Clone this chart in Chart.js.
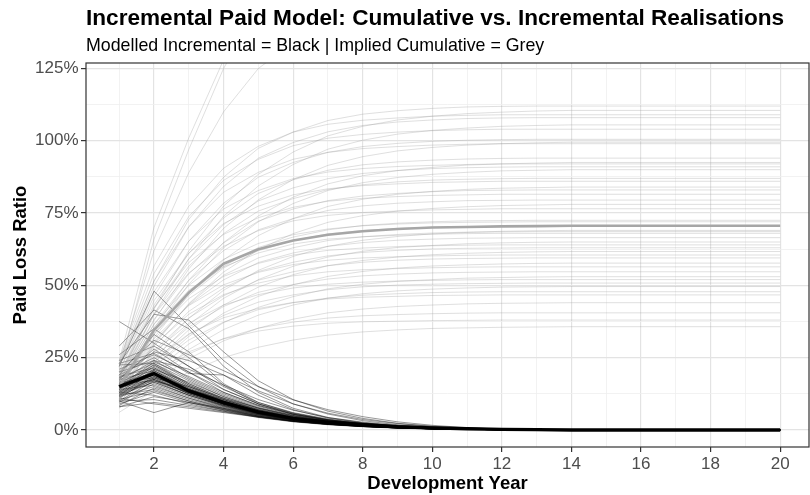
<!DOCTYPE html>
<html>
<head>
<meta charset="utf-8">
<script src="https://cdn.jsdelivr.net/npm/chart.js@4.4.1/dist/chart.umd.min.js"></script>
<style>
  body { margin: 0; background: #fff; }
  #wrap { position: relative; width: 810px; height: 495px; font-family: "Liberation Sans", Arial, sans-serif; }
  #title { position: absolute; left: 86px; top: 5px; font-size: 22.6px; font-weight: bold; color: #000; white-space: nowrap; }
  #subtitle { position: absolute; left: 86px; top: 35px; font-size: 17.8px; color: #000; white-space: nowrap; }
  canvas { position: absolute; left: 0; top: 0; }
</style>
</head>
<body>
<div id="wrap">
  <canvas id="chart" width="810" height="495"></canvas>
  <div id="title">Incremental Paid Model: Cumulative vs. Incremental Realisations</div>
  <div id="subtitle">Modelled Incremental = Black | Implied Cumulative = Grey</div>
</div>
<script>
// development years (x)
const years = [1, 2, 3, 4, 5, 6, 7, 8, 9, 10, 11, 12, 13, 14, 15, 16, 17, 18, 19, 20];
const xTickLabels = ['', '2', '', '4', '', '6', '', '8', '', '10', '', '12', '', '14', '', '16', '', '18', '', '20'];
const yTicks = [0, 12.5, 25, 37.5, 50, 62.5, 75, 87.5, 100, 112.5, 125];

// central (thick) lines, paid loss ratio in %
const meanIncremental = [15, 19.5, 13.5, 9.5, 6.2, 4.0, 2.7, 1.8, 1.1, 0.7, 0.4, 0.2, 0.1, 0, 0, 0, 0, 0, 0, 0];
const meanCumulative = [15, 34.5, 47.5, 57.5, 62.5, 65.5, 67.5, 68.7, 69.5, 70, 70.2, 70.4, 70.5, 70.6, 70.6, 70.6, 70.6, 70.6, 70.6, 70.6];

// simulated incremental paths (black)
const incrementalPaths = [
  [37.5, 30, 22, 14, 9, 5.5, 3.5, 2.2, 1.3, 0.8, 0.4, 0.2, 0.1, 0, 0, 0, 0, 0, 0, 0],
  [22, 48, 36, 24, 15, 9, 5.5, 3.2, 1.8, 1.0, 0.5, 0.2, 0.1, 0, 0, 0, 0, 0, 0, 0],
  [29, 41.5, 35, 22, 13, 7.5, 4.3, 2.5, 1.4, 0.8, 0.4, 0.2, 0.1, 0, 0, 0, 0, 0, 0, 0],
  [23, 40, 38, 27, 17, 10.5, 6.5, 4, 2.3, 1.3, 0.7, 0.3, 0.1, 0, 0, 0, 0, 0, 0, 0],
  [20, 31, 26, 20.5, 15, 10.4, 7, 4.6, 2.8, 1.6, 0.8, 0.3, 0.1, 0, 0, 0, 0, 0, 0, 0],
  [18, 27, 24, 19, 13.5, 9, 5.8, 3.6, 2.2, 1.2, 0.6, 0.3, 0.1, 0, 0, 0, 0, 0, 0, 0],
  [24, 29, 22, 15, 9.5, 6, 3.8, 2.3, 1.4, 0.8, 0.4, 0.2, 0.1, 0, 0, 0, 0, 0, 0, 0],
  [21, 26, 20, 14, 9, 5.8, 3.6, 2.2, 1.3, 0.7, 0.4, 0.2, 0.1, 0, 0, 0, 0, 0, 0, 0],
  [19, 25, 18, 12.5, 8.2, 5.2, 3.3, 2.0, 1.2, 0.7, 0.3, 0.1, 0, 0, 0, 0, 0, 0, 0, 0],
  [17, 24, 17.5, 12, 7.8, 5, 3.1, 1.9, 1.1, 0.6, 0.3, 0.1, 0, 0, 0, 0, 0, 0, 0, 0],
  [22.5, 23, 17, 11.5, 7.5, 4.8, 3, 1.8, 1.0, 0.6, 0.3, 0.1, 0, 0, 0, 0, 0, 0, 0, 0],
  [16, 22.5, 16, 11, 7.2, 4.6, 2.9, 1.8, 1.0, 0.6, 0.3, 0.1, 0, 0, 0, 0, 0, 0, 0, 0],
  [14, 22, 15.5, 10.5, 6.8, 4.3, 2.7, 1.7, 1.0, 0.5, 0.3, 0.1, 0, 0, 0, 0, 0, 0, 0, 0],
  [13, 21, 16.5, 11.5, 7.5, 4.8, 3.0, 1.9, 1.1, 0.6, 0.3, 0.1, 0, 0, 0, 0, 0, 0, 0, 0],
  [18.5, 21.5, 15, 10, 6.5, 4.1, 2.6, 1.6, 0.9, 0.5, 0.2, 0.1, 0, 0, 0, 0, 0, 0, 0, 0],
  [12, 20.5, 14.5, 10, 6.4, 4.1, 2.6, 1.6, 0.9, 0.5, 0.2, 0.1, 0, 0, 0, 0, 0, 0, 0, 0],
  [15.5, 20, 14, 9.5, 6.2, 4, 2.5, 1.5, 0.9, 0.5, 0.2, 0.1, 0, 0, 0, 0, 0, 0, 0, 0],
  [14.5, 19, 13, 9, 5.8, 3.7, 2.3, 1.4, 0.8, 0.4, 0.2, 0.1, 0, 0, 0, 0, 0, 0, 0, 0],
  [11, 18.5, 13.5, 9.5, 6.2, 4.0, 2.5, 1.5, 0.9, 0.5, 0.2, 0.1, 0, 0, 0, 0, 0, 0, 0, 0],
  [16.5, 18, 12.5, 8.5, 5.5, 3.5, 2.2, 1.3, 0.8, 0.4, 0.2, 0.1, 0, 0, 0, 0, 0, 0, 0, 0],
  [13.5, 17.5, 12.5, 8.8, 5.7, 3.6, 2.3, 1.4, 0.8, 0.4, 0.2, 0.1, 0, 0, 0, 0, 0, 0, 0, 0],
  [10, 17, 13, 9, 5.9, 3.8, 2.4, 1.5, 0.9, 0.5, 0.2, 0.1, 0, 0, 0, 0, 0, 0, 0, 0],
  [12.5, 16.5, 12, 8.2, 5.3, 3.4, 2.1, 1.3, 0.7, 0.4, 0.2, 0.1, 0, 0, 0, 0, 0, 0, 0, 0],
  [9.5, 16, 11.5, 8, 5.2, 3.3, 2.1, 1.3, 0.7, 0.4, 0.2, 0.1, 0, 0, 0, 0, 0, 0, 0, 0],
  [14, 15.5, 11, 7.5, 4.9, 3.1, 2.0, 1.2, 0.7, 0.4, 0.2, 0.1, 0, 0, 0, 0, 0, 0, 0, 0],
  [11.5, 15, 11, 7.8, 5.1, 3.3, 2.1, 1.3, 0.7, 0.4, 0.2, 0.1, 0, 0, 0, 0, 0, 0, 0, 0],
  [8.5, 14.5, 10.5, 7.4, 4.8, 3.1, 2.0, 1.2, 0.7, 0.4, 0.2, 0.1, 0, 0, 0, 0, 0, 0, 0, 0],
  [12, 14, 10, 7, 4.6, 3.0, 1.9, 1.2, 0.7, 0.4, 0.2, 0.1, 0, 0, 0, 0, 0, 0, 0, 0],
  [10.5, 13.5, 10, 7.2, 4.8, 3.1, 2.0, 1.2, 0.7, 0.4, 0.2, 0.1, 0, 0, 0, 0, 0, 0, 0, 0],
  [9, 13, 9.5, 6.8, 4.5, 2.9, 1.9, 1.2, 0.7, 0.4, 0.2, 0.1, 0, 0, 0, 0, 0, 0, 0, 0],
  [13, 12, 9, 6.5, 4.3, 2.8, 1.8, 1.1, 0.6, 0.3, 0.2, 0.1, 0, 0, 0, 0, 0, 0, 0, 0],
  [8, 11.5, 9.5, 7.5, 5.2, 3.4, 2.2, 1.4, 0.8, 0.4, 0.2, 0.1, 0, 0, 0, 0, 0, 0, 0, 0],
  [10, 10.5, 8.5, 6.5, 4.6, 3.0, 2.0, 1.2, 0.7, 0.4, 0.2, 0.1, 0, 0, 0, 0, 0, 0, 0, 0],
  [8, 9.5, 8, 6.2, 4.5, 3.0, 2.0, 1.3, 0.8, 0.4, 0.2, 0.1, 0, 0, 0, 0, 0, 0, 0, 0],
  [10, 6, 9.5, 7, 4.8, 3.2, 2.1, 1.3, 0.8, 0.4, 0.2, 0.1, 0, 0, 0, 0, 0, 0, 0, 0],
  [11, 9, 7.5, 6, 4.4, 3.0, 2.0, 1.3, 0.8, 0.4, 0.2, 0.1, 0, 0, 0, 0, 0, 0, 0, 0],
  [20, 24, 21, 15.5, 10.5, 6.8, 4.3, 2.7, 1.6, 0.9, 0.5, 0.2, 0.1, 0, 0, 0, 0, 0, 0, 0],
  [26, 35, 27, 16, 9.5, 5.8, 3.5, 2.1, 1.2, 0.7, 0.3, 0.1, 0, 0, 0, 0, 0, 0, 0, 0],
  [17.5, 28, 20, 13, 8.5, 5.4, 3.4, 2.1, 1.2, 0.7, 0.3, 0.1, 0, 0, 0, 0, 0, 0, 0, 0],
  [15, 23.5, 18.5, 13, 8.5, 5.5, 3.5, 2.2, 1.3, 0.7, 0.4, 0.2, 0.1, 0, 0, 0, 0, 0, 0, 0],
  [12, 18, 15, 11, 7.6, 5, 3.2, 2, 1.2, 0.7, 0.3, 0.1, 0, 0, 0, 0, 0, 0, 0, 0],
  [16, 20, 13.5, 8.8, 5.6, 3.5, 2.2, 1.3, 0.8, 0.4, 0.2, 0.1, 0, 0, 0, 0, 0, 0, 0, 0],
  [13, 17, 14, 10.5, 7.0, 4.6, 3.0, 1.9, 1.1, 0.6, 0.3, 0.1, 0, 0, 0, 0, 0, 0, 0, 0],
  [19, 33, 25, 15.5, 9, 5.4, 3.3, 2, 1.1, 0.6, 0.3, 0.1, 0, 0, 0, 0, 0, 0, 0, 0],
  [23, 26.5, 19.5, 19, 12, 7, 4.1, 2.4, 1.4, 0.8, 0.4, 0.2, 0.1, 0, 0, 0, 0, 0, 0, 0],
  [14.5, 18.5, 13.5, 9.2, 6.0, 3.8, 2.4, 1.5, 0.9, 0.5, 0.2, 0.1, 0, 0, 0, 0, 0, 0, 0, 0],
  [15.5, 21, 14.5, 9.8, 6.3, 4.0, 2.5, 1.5, 0.9, 0.5, 0.2, 0.1, 0, 0, 0, 0, 0, 0, 0, 0],
  [13.5, 19.5, 14, 9.7, 6.3, 4.1, 2.6, 1.6, 0.9, 0.5, 0.2, 0.1, 0, 0, 0, 0, 0, 0, 0, 0],
  [16, 17, 12, 8.3, 5.4, 3.5, 2.2, 1.3, 0.8, 0.4, 0.2, 0.1, 0, 0, 0, 0, 0, 0, 0, 0],
  [12.5, 18, 13, 9, 6.0, 3.9, 2.5, 1.5, 0.9, 0.5, 0.2, 0.1, 0, 0, 0, 0, 0, 0, 0, 0],
  [14, 20.5, 14.2, 9.8, 6.4, 4.1, 2.7, 1.7, 1.0, 0.6, 0.3, 0.1, 0, 0, 0, 0, 0, 0, 0, 0],
  [15.5, 19, 13.2, 9.0, 5.9, 3.8, 2.5, 1.6, 0.9, 0.5, 0.2, 0.1, 0, 0, 0, 0, 0, 0, 0, 0],
  [16.5, 21.5, 15.0, 10.2, 6.6, 4.2, 2.7, 1.7, 1.0, 0.6, 0.3, 0.1, 0, 0, 0, 0, 0, 0, 0, 0],
  [13, 18.5, 13.0, 9.0, 5.9, 3.8, 2.4, 1.5, 0.9, 0.5, 0.2, 0.1, 0, 0, 0, 0, 0, 0, 0, 0],
  [17.5, 20.5, 14.0, 9.4, 6.0, 3.8, 2.4, 1.5, 0.9, 0.5, 0.2, 0.1, 0, 0, 0, 0, 0, 0, 0, 0],
  [12, 16.5, 12.0, 8.5, 5.6, 3.7, 2.4, 1.5, 0.9, 0.5, 0.2, 0.1, 0, 0, 0, 0, 0, 0, 0, 0],
  [15, 22.5, 15.5, 10.5, 6.8, 4.3, 2.7, 1.7, 1.0, 0.5, 0.3, 0.1, 0, 0, 0, 0, 0, 0, 0, 0],
  [14.5, 17.5, 12.5, 8.6, 5.6, 3.6, 2.3, 1.4, 0.8, 0.4, 0.2, 0.1, 0, 0, 0, 0, 0, 0, 0, 0],
  [18, 23, 16, 10.8, 7.0, 4.4, 2.8, 1.7, 1.0, 0.6, 0.3, 0.1, 0, 0, 0, 0, 0, 0, 0, 0],
  [11.5, 17.5, 12.8, 9.0, 6.0, 3.9, 2.5, 1.6, 0.9, 0.5, 0.2, 0.1, 0, 0, 0, 0, 0, 0, 0, 0]
];

// implied cumulative paths (grey)
const cumulativePaths = [
  [24, 70, 101, 128, 150, 165, 175, 181, 185, 187, 188, 189, 189.5, 190, 190, 190, 190, 190, 190, 190],
  [21, 66, 97, 125, 146, 160, 169, 175, 178, 180, 181, 182, 182, 182, 182, 182, 182, 182, 182, 182],
  [23, 62, 89, 110, 125, 134, 139, 142, 144, 145, 146, 146.5, 147, 147, 147, 147, 147, 147, 147, 147],
  [22.4, 51.5, 72.8, 87.4, 97.4, 103.0, 107.0, 109.2, 110.4, 111.2, 111.7, 111.9, 112, 112, 112, 112, 112, 112, 112, 112],
  [18.8, 42.0, 61.9, 77.4, 88.4, 96.1, 101.7, 105.0, 107.2, 108.5, 109.4, 109.9, 110.3, 110.5, 110.5, 110.5, 110.5, 110.5, 110.5, 110.5],
  [24.0, 56.7, 77.4, 90.5, 98.1, 103.0, 105.7, 107.1, 107.9, 108.5, 108.8, 109, 109, 109, 109, 109, 109, 109, 109, 109],
  [21.6, 49.7, 70.2, 84.2, 94.0, 99.4, 103.1, 105.3, 106.5, 107.2, 107.7, 107.9, 108, 108, 108, 108, 108, 108, 108, 108],
  [17.9, 40.1, 59.1, 73.9, 84.4, 91.8, 97.1, 100.2, 102.3, 103.6, 104.4, 105.0, 105.3, 105.5, 105.5, 105.5, 105.5, 105.5, 105.5, 105.5],
  [22.9, 54.1, 73.8, 86.3, 93.6, 98.3, 100.9, 102.2, 103.0, 103.5, 103.8, 104, 104, 104, 104, 104, 104, 104, 104, 104],
  [20.1, 46.2, 65.3, 78.4, 87.4, 92.5, 96.0, 98.0, 99.1, 99.8, 100.2, 100.4, 100.5, 100.5, 100.5, 100.5, 100.5, 100.5, 100.5, 100.5],
  [16.9, 37.8, 55.7, 69.7, 79.6, 86.6, 91.5, 94.5, 96.5, 97.7, 98.5, 99.0, 99.3, 99.5, 99.5, 99.5, 99.5, 99.5, 99.5, 99.5],
  [21.8, 51.5, 70.3, 82.2, 89.1, 93.6, 96.0, 97.3, 98.0, 98.5, 98.8, 99, 99, 99, 99, 99, 99, 99, 99, 99],
  [18.8, 43.2, 61.1, 73.3, 81.8, 86.5, 89.8, 91.7, 92.7, 93.3, 93.7, 93.9, 94, 94, 94, 94, 94, 94, 94, 94],
  [15.7, 35.2, 51.8, 64.8, 74.0, 80.5, 85.1, 87.9, 89.7, 90.8, 91.6, 92.0, 92.3, 92.5, 92.5, 92.5, 92.5, 92.5, 92.5, 92.5],
  [20.2, 47.8, 65.3, 76.4, 82.8, 86.9, 89.2, 90.4, 91.1, 91.5, 91.8, 92, 92, 92, 92, 92, 92, 92, 92, 92],
  [18.2, 41.9, 59.2, 71.0, 79.2, 83.7, 86.9, 88.7, 89.7, 90.4, 90.7, 90.9, 91, 91, 91, 91, 91, 91, 91, 91],
  [15.3, 34.2, 50.4, 63.0, 72.0, 78.3, 82.8, 85.5, 87.3, 88.4, 89.1, 89.6, 89.8, 90, 90, 90, 90, 90, 90, 90],
  [17.4, 40.0, 56.6, 67.9, 75.7, 80.0, 83.1, 84.8, 85.8, 86.4, 86.7, 86.9, 87, 87, 87, 87, 87, 87, 87, 87],
  [18.9, 44.7, 61.1, 71.4, 77.4, 81.3, 83.4, 84.5, 85.1, 85.6, 85.8, 86, 86, 86, 86, 86, 86, 86, 86, 86],
  [14.3, 31.9, 47.0, 58.8, 67.2, 73.1, 77.3, 79.8, 81.5, 82.5, 83.2, 83.6, 83.8, 84, 84, 84, 84, 84, 84, 84],
  [16.6, 38.2, 54.0, 64.7, 72.2, 76.4, 79.3, 80.9, 81.8, 82.4, 82.8, 82.9, 83, 83, 83, 83, 83, 83, 83, 83],
  [17.9, 42.4, 57.9, 67.6, 73.4, 77.0, 79.1, 80.1, 80.7, 81.1, 81.3, 81.5, 81.5, 81.5, 81.5, 81.5, 81.5, 81.5, 81.5, 81.5],
  [15.9, 36.6, 51.7, 62.0, 69.2, 73.1, 75.9, 77.5, 78.4, 78.9, 79.3, 79.4, 79.5, 79.5, 79.5, 79.5, 79.5, 79.5, 79.5, 79.5],
  [13.3, 29.6, 43.7, 54.6, 62.4, 67.9, 71.8, 74.1, 75.7, 76.6, 77.2, 77.6, 77.8, 78, 78, 78, 78, 78, 78, 78],
  [16.8, 39.8, 54.3, 63.5, 68.9, 72.3, 74.2, 75.2, 75.7, 76.1, 76.3, 76.5, 76.5, 76.5, 76.5, 76.5, 76.5, 76.5, 76.5, 76.5],
  [14.5, 33.4, 47.1, 56.6, 63.1, 66.7, 69.2, 70.7, 71.5, 72.0, 72.3, 72.4, 72.5, 72.5, 72.5, 72.5, 72.5, 72.5, 72.5, 72.5],
  [11.7, 26.2, 38.6, 48.3, 55.2, 60.0, 63.5, 65.6, 66.9, 67.8, 68.3, 68.7, 68.9, 69, 69, 69, 69, 69, 69, 69],
  [15.0, 35.4, 48.3, 56.4, 61.2, 64.3, 66.0, 66.8, 67.3, 67.7, 67.9, 68, 68, 68, 68, 68, 68, 68, 68, 68],
  [13.3, 30.6, 43.2, 51.9, 57.9, 61.2, 63.5, 64.8, 65.6, 66.0, 66.3, 66.4, 66.5, 66.5, 66.5, 66.5, 66.5, 66.5, 66.5, 66.5],
  [11.1, 24.7, 36.4, 45.5, 52.0, 56.6, 59.8, 61.8, 63.1, 63.8, 64.4, 64.7, 64.9, 65, 65, 65, 65, 65, 65, 65],
  [14.1, 33.3, 45.4, 53.1, 57.6, 60.5, 62.1, 62.9, 63.4, 63.7, 63.9, 64, 64, 64, 64, 64, 64, 64, 64, 64],
  [12.6, 29.0, 41.0, 49.1, 54.8, 58.0, 60.2, 61.4, 62.1, 62.6, 62.8, 62.9, 63, 63, 63, 63, 63, 63, 63, 63],
  [10.5, 23.4, 34.6, 43.2, 49.4, 53.7, 56.8, 58.6, 59.8, 60.6, 61.1, 61.4, 61.6, 61.7, 61.7, 61.7, 61.7, 61.7, 61.7, 61.7],
  [13.3, 31.5, 43.0, 50.2, 54.5, 57.2, 58.7, 59.5, 59.9, 60.2, 60.4, 60.5, 60.5, 60.5, 60.5, 60.5, 60.5, 60.5, 60.5, 60.5],
  [11.9, 27.4, 38.7, 46.4, 51.8, 54.7, 56.8, 58.0, 58.7, 59.1, 59.3, 59.4, 59.5, 59.5, 59.5, 59.5, 59.5, 59.5, 59.5, 59.5],
  [9.8, 21.9, 32.3, 40.4, 46.2, 50.2, 53.1, 54.8, 56.0, 56.7, 57.1, 57.4, 57.6, 57.7, 57.7, 57.7, 57.7, 57.7, 57.7, 57.7],
  [12.4, 29.3, 40.0, 46.8, 50.8, 53.3, 54.7, 55.4, 55.8, 56.1, 56.3, 56.4, 56.4, 56.4, 56.4, 56.4, 56.4, 56.4, 56.4, 56.4],
  [10.9, 25.2, 35.6, 42.7, 47.6, 50.3, 52.2, 53.3, 53.9, 54.3, 54.5, 54.6, 54.7, 54.7, 54.7, 54.7, 54.7, 54.7, 54.7, 54.7],
  [9.0, 20.1, 29.7, 37.1, 42.4, 46.1, 48.8, 50.4, 51.4, 52.0, 52.5, 52.7, 52.9, 53, 53, 53, 53, 53, 53, 53],
  [11.4, 27.0, 36.9, 43.2, 46.8, 49.1, 50.4, 51.1, 51.5, 51.7, 51.9, 52, 52, 52, 52, 52, 52, 52, 52, 52],
  [10.2, 23.4, 33.0, 39.6, 44.2, 46.7, 48.5, 49.5, 50.1, 50.4, 50.6, 50.7, 50.8, 50.8, 50.8, 50.8, 50.8, 50.8, 50.8, 50.8],
  [8.4, 18.8, 27.8, 34.7, 39.7, 43.2, 45.6, 47.1, 48.1, 48.7, 49.1, 49.4, 49.5, 49.6, 49.6, 49.6, 49.6, 49.6, 49.6, 49.6],
  [9.6, 22.0, 31.1, 37.3, 41.6, 44.0, 45.6, 46.6, 47.1, 47.5, 47.7, 47.8, 47.8, 47.8, 47.8, 47.8, 47.8, 47.8, 47.8, 47.8],
  [10.3, 24.3, 33.2, 38.8, 42.0, 44.1, 45.3, 45.9, 46.2, 46.5, 46.6, 46.7, 46.7, 46.7, 46.7, 46.7, 46.7, 46.7, 46.7, 46.7],
  [7.5, 16.7, 24.6, 30.8, 35.2, 38.3, 40.5, 41.8, 42.7, 43.2, 43.6, 43.8, 43.9, 44, 44, 44, 44, 44, 44, 44],
  [8.1, 18.6, 26.3, 31.6, 35.2, 37.3, 38.7, 39.5, 39.9, 40.2, 40.4, 40.5, 40.5, 40.5, 40.5, 40.5, 40.5, 40.5, 40.5, 40.5],
  [8.4, 19.8, 27.0, 31.5, 34.2, 35.9, 36.9, 37.4, 37.6, 37.8, 37.9, 38, 38, 38, 38, 38, 38, 38, 38, 38],
  [6.1, 13.6, 20.0, 25.0, 28.6, 31.1, 32.8, 33.9, 34.6, 35.1, 35.3, 35.5, 35.6, 35.7, 35.7, 35.7, 35.7, 35.7, 35.7, 35.7],
  [14.0, 33.0, 46.5, 56.0, 62.0, 65.5, 67.8, 69.0, 69.7, 70.1, 70.3, 70.4, 70.5, 70.5, 70.5, 70.5, 70.5, 70.5, 70.5, 70.5],
  [16.0, 36.5, 50.0, 59.0, 64.5, 67.5, 69.5, 70.6, 71.2, 71.6, 71.8, 71.9, 72, 72, 72, 72, 72, 72, 72, 72],
  [12.5, 30.0, 43.5, 53.5, 59.5, 63.0, 65.5, 66.8, 67.6, 68.1, 68.4, 68.5, 68.6, 68.6, 68.6, 68.6, 68.6, 68.6, 68.6, 68.6]
];

// Panel border like theme_bw
const panelBorder = {
    id: 'panelBorder',
    afterDatasetsDraw(chart) {
        const { ctx, chartArea } = chart;
        ctx.save();
        ctx.strokeStyle = '#333333';
        ctx.lineWidth = 1.2;
        ctx.strokeRect(chartArea.left, chartArea.top, chartArea.right - chartArea.left, chartArea.bottom - chartArea.top);
        ctx.restore();
    }
};

function pathDataset(values, color, width, order) {
    return {
        data: values,
        borderColor: color,
        borderWidth: width,
        pointRadius: 0,
        tension: 0,
        fill: false,
        order: order
    };
}

const datasets = [];
incrementalPaths.forEach(p => datasets.push(pathDataset(p, 'rgba(0,0,0,0.45)', 0.9, 4)));
cumulativePaths.forEach(p => datasets.push(pathDataset(p, 'rgba(150,150,150,0.38)', 0.8, 3)));
datasets.push(pathDataset(meanCumulative, '#a6a6a6', 2.6, 2));
datasets.push(pathDataset(meanIncremental, '#000000', 3.4, 1));

const isMajorY = v => v % 25 === 0;
const isMajorX = v => v % 2 === 0;

new Chart(document.getElementById('chart').getContext('2d'), {
    type: 'line',
    data: { labels: years, datasets: datasets },
    options: {
        responsive: false,
        animation: false,
        layout: { padding: { left: 0, right: 1, top: 63, bottom: 0 } },
        plugins: { legend: { display: false }, tooltip: { enabled: false }, title: { display: false } },
        scales: {
            x: {
                type: 'linear',
                min: 0.045,
                max: 20.83,
                afterBuildTicks: scale => { scale.ticks = years.map(v => ({ value: v })); },
                afterFit: scale => { scale.height = 48; },
                ticks: {
                    autoSkip: false,
                    maxRotation: 0,
                    padding: 2,
                    color: '#4d4d4d',
                    font: { family: 'Liberation Sans', size: 17 },
                    callback: (v, i) => xTickLabels[i]
                },
                grid: {
                    color: ctx => isMajorX(ctx.tick.value) ? '#e3e3e3' : '#efefef',
                    lineWidth: ctx => isMajorX(ctx.tick.value) ? 1.2 : 0.8,
                    tickColor: ctx => isMajorX(ctx.tick.value) ? '#333333' : 'rgba(0,0,0,0)',
                    tickLength: 5
                },
                border: { display: false },
                title: {
                    display: true,
                    text: 'Development Year',
                    color: '#000',
                    font: { family: 'Liberation Sans', size: 18.5, weight: 'bold', lineHeight: 1.2 },
                    padding: { top: 0, bottom: 0 }
                }
            },
            y: {
                min: -5.9,
                max: 126.9,
                afterBuildTicks: scale => { scale.ticks = yTicks.map(v => ({ value: v })); },
                afterFit: scale => { scale.width = 86; },
                ticks: {
                    padding: 2.5,
                    color: '#4d4d4d',
                    font: { family: 'Liberation Sans', size: 17 },
                    callback: v => isMajorY(v) ? v + '%' : ''
                },
                grid: {
                    color: ctx => isMajorY(ctx.tick.value) ? '#e3e3e3' : '#efefef',
                    lineWidth: ctx => isMajorY(ctx.tick.value) ? 1.2 : 0.8,
                    tickColor: ctx => isMajorY(ctx.tick.value) ? '#333333' : 'rgba(0,0,0,0)',
                    tickLength: 5
                },
                border: { display: false },
                title: {
                    display: true,
                    text: 'Paid Loss Ratio',
                    color: '#000',
                    font: { family: 'Liberation Sans', size: 18.5, weight: 'bold', lineHeight: 1.2 },
                    padding: { top: 10, bottom: 0 }
                }
            }
        }
    },
    plugins: [panelBorder]
});
</script>
</body>
</html>
